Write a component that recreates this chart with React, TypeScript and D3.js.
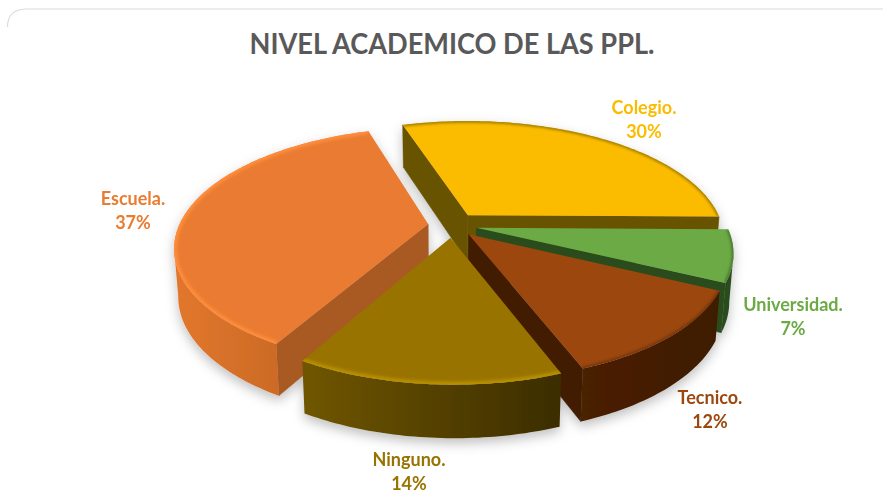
import React from "react";
import * as d3 from "d3";

const categories = ["Colegio.", "Universidad.", "Tecnico.", "Ninguno.", "Escuela."];
const values = [30, 7, 12, 14, 37];
const topColors = ["#FBBC00", "#6CAA45", "#9C470D", "#997300", "#E97C30"];
const faceColors = ["#685200", "#2B4C1D", "#421C04", "#5E4900", "#A95A23"];
const wallLeftColors = ["#685200", "#2B4C1D", "#4A2005", "#705600", "#E2772D"];
const wallRightColors = ["#685200", "#2B4C1D", "#3E1A03", "#3B2D00", "#B8601F"];
const bevelColors = ["#8F7000", "#3F6B2A", "#6A2F08", "#B89000", "#FF8C3C"];
const labelColors = ["#FBBC00", "#6CAA45", "#9C470D", "#997300", "#E97C30"];
const labelCenters: [number, number][] = [[644, 114], [793, 311], [710, 404], [409, 466], [133, 205]];
const explosions = [27, 27, 27, 27, 22];
const radiusFactors = [1.02, 1, 1, 1, 1.02];
const sideShifts = [2, 0, 0, 2.5, 0];

const W = 883, H = 504;
const CX = 450, CY = 225;
const R = 247, K = 0.46, P = 0.19, Q = 0.01, DEPTH = 47, DEPTH_POW = 0.55, BOTTOM_SHRINK = 0.985;
const START = (-17.35 * Math.PI) / 180;

type Pt = { x: number; y: number; s: number };

function project(X: number, Y: number): Pt {
  const s = 1 / (1 - (P * Y) / R - (Q * X) / R);
  return { x: CX + X * s, y: CY + Y * K * s, s };
}
const bottom = (p: Pt): [number, number] => [CX + (p.x - CX) * BOTTOM_SHRINK, p.y + DEPTH * Math.pow(p.s, DEPTH_POW)];
const top = (p: Pt): [number, number] => [p.x, p.y];
const line = d3.line();

const arcs = d3.pie<number>().sort(null).startAngle(START).endAngle(START + 2 * Math.PI)(values);

function sliceGeometry(a: d3.PieArcDatum<number>, e: number, f: number, shift: number) {
  const mid = (a.startAngle + a.endAngle) / 2;
  const ex = e * Math.sin(mid) + shift, ey = -e * Math.cos(mid);
  const apex = project(ex, ey);
  const n = Math.ceil(((a.endAngle - a.startAngle) * 180) / Math.PI);
  const rim = d3.range(n + 1).map((i) => {
    const t = a.startAngle + ((a.endAngle - a.startAngle) * i) / n;
    return project(ex + R * f * Math.sin(t), ey - R * f * Math.cos(t));
  });
  return { apex, rim };
}

function faceQuad(p: Pt, q: Pt) {
  return line([top(p), top(q), bottom(q), bottom(p)]) + "Z";
}

export default function App() {
  const slices = arcs.map((a, i) => ({ i, ...sliceGeometry(a, explosions[i], radiusFactors[i], sideShifts[i]) }));
  const drawOrder = [0, 4, 1, 2, 3];
  return (
    <svg width={W} height={H} style={{ position: "absolute", left: 0, top: 0, display: "block", background: "#fff" }}>
      <defs>
        <filter id="sh" x="-20%" y="-20%" width="140%" height="150%">
          <feDropShadow dx="0" dy="5" stdDeviation="6" floodColor="#000" floodOpacity="0.25" />
        </filter>
        <filter id="bev" x="-10%" y="-10%" width="120%" height="120%">
          <feGaussianBlur stdDeviation="1.6" />
        </filter>
        {slices.map((s) => {
          const xs = s.rim.map((p) => p.x);
          return (
            <React.Fragment key={s.i}>
              <linearGradient id={`wall${s.i}`} gradientUnits="userSpaceOnUse" x1={d3.min(xs)} x2={d3.max(xs)} y1="0" y2="0">
                <stop offset="0" stopColor={wallLeftColors[s.i]} />
                <stop offset="1" stopColor={wallRightColors[s.i]} />
              </linearGradient>
              <clipPath id={`clip${s.i}`}>
                <path d={line([top(s.apex), ...s.rim.map(top)]) + "Z"} />
              </clipPath>
            </React.Fragment>
          );
        })}
      </defs>
      <path d="M7.5,27 Q7.5,9.5 26,9 L883,9" fill="none" stroke="#dcdcdc" strokeWidth="1.2" />
      <text x={452} y={54} textAnchor="middle" fontFamily="Lato" fontWeight={700} fontSize={29} fill="#595959" textLength={405} lengthAdjust="spacingAndGlyphs">
        NIVEL ACADEMICO DE LAS PPL.
      </text>
      <g filter="url(#sh)">
        {drawOrder.map((i) => {
          const s = slices[i];
          const startRim = s.rim[0];
          const endRim = s.rim[s.rim.length - 1];
          const wallIdx = s.rim.map((_, j) => j).filter((j) => j > 0 && s.rim[j].x < s.rim[j - 1].x);
          const wallPts = wallIdx.length ? [s.rim[wallIdx[0] - 1], ...wallIdx.map((j) => s.rim[j])] : [];
          return (
            <g key={i}>
              {startRim.x < s.apex.x && <path d={faceQuad(s.apex, startRim)} fill={faceColors[i]} stroke={faceColors[i]} strokeWidth={0.5} />}
              {s.apex.x < endRim.x && <path d={faceQuad(endRim, s.apex)} fill={faceColors[i]} stroke={faceColors[i]} strokeWidth={0.5} />}
              {wallPts.length > 1 && (
                <path
                  d={line([...wallPts.map(top), ...wallPts.slice().reverse().map(bottom)]) + "Z"}
                  fill={`url(#wall${i})`}
                />
              )}
              <path d={line([top(s.apex), ...s.rim.map(top)]) + "Z"} fill={topColors[i]} />
              <g clipPath={`url(#clip${i})`}>
                <path
                  d={line(s.rim.map(top)) as string}
                  fill="none"
                  stroke={bevelColors[i]}
                  strokeWidth={i === 3 || i === 4 ? 6 : 3}
                  filter="url(#bev)"
                />
              </g>
            </g>
          );
        })}
      </g>
      {categories.map((c, i) => (
        <text
          key={c}
          x={labelCenters[i][0]}
          y={labelCenters[i][1]}
          textAnchor="middle"
          fontFamily="Lato"
          fontWeight={700}
          fontSize={18}
          fill={labelColors[i]}
        >
          <tspan x={labelCenters[i][0]}>{c}</tspan>
          <tspan x={labelCenters[i][0]} dy={24}>{`${values[i]}%`}</tspan>
        </text>
      ))}
    </svg>
  );
}
